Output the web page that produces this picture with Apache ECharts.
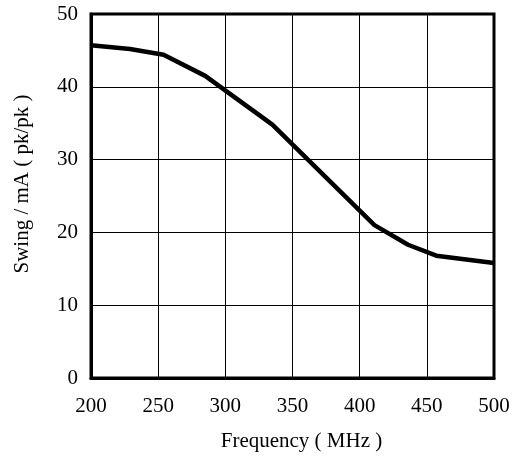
<!DOCTYPE html>
<html>
<head>
<meta charset="utf-8">
<script src="https://cdn.jsdelivr.net/npm/echarts@6/dist/echarts.min.js"></script>
<style>
  html, body { margin: 0; padding: 0; background: #fff; }
  #chart { width: 514px; height: 457px; }
</style>
</head>
<body>
<div id="chart"></div>
<script>
// frequency (MHz) and swing (mA pk/pk)
var freq = [200, 229, 254, 285, 335, 411, 436, 457, 500];
var swing = [45.7, 45.2, 44.4, 41.5, 34.8, 21.0, 18.3, 16.8, 15.8];

var points = freq.map(function (f, i) { return [f, swing[i]]; });

var font = "'Liberation Serif', 'Times New Roman', serif";

var chart = echarts.init(document.getElementById("chart"));
chart.setOption({
  animation: false,
  grid: {
    left: 91,
    right: 20,
    top: 14,
    bottom: 79,
    show: true,
    borderColor: "#000",
    borderWidth: 3,
  },
  xAxis: {
    type: "value",
    min: 200,
    max: 500,
    interval: 50,
    name: "Frequency ( MHz )",
    nameLocation: "middle",
    nameGap: 53,
    nameTextStyle: { fontFamily: font, fontSize: 21, color: "#000", padding: [0, 0, 0, 18] },
    axisLine: { show: true, lineStyle: { color: "#000", width: 3 } },
    axisTick: { show: false },
    axisLabel: { fontFamily: font, fontSize: 21, color: "#000", margin: 18 },
    splitLine: { show: true, lineStyle: { color: "#000", width: 1 } },
  },
  yAxis: {
    type: "value",
    min: 0,
    max: 50,
    interval: 10,
    name: "Swing / mA ( pk/pk )",
    nameLocation: "middle",
    nameGap: 58,
    nameTextStyle: { fontFamily: font, fontSize: 21, color: "#000", padding: [0, 0, 0, 24] },
    axisLine: { show: true, lineStyle: { color: "#000", width: 3 } },
    axisTick: { show: false },
    axisLabel: { fontFamily: font, fontSize: 21, color: "#000", margin: 13 },
    splitLine: { show: true, lineStyle: { color: "#000", width: 1 } },
  },
  series: [
    {
      type: "line",
      data: points,
      showSymbol: false,
      lineStyle: { color: "#000", width: 4.5 },
    },
  ],
});
</script>
</body>
</html>
